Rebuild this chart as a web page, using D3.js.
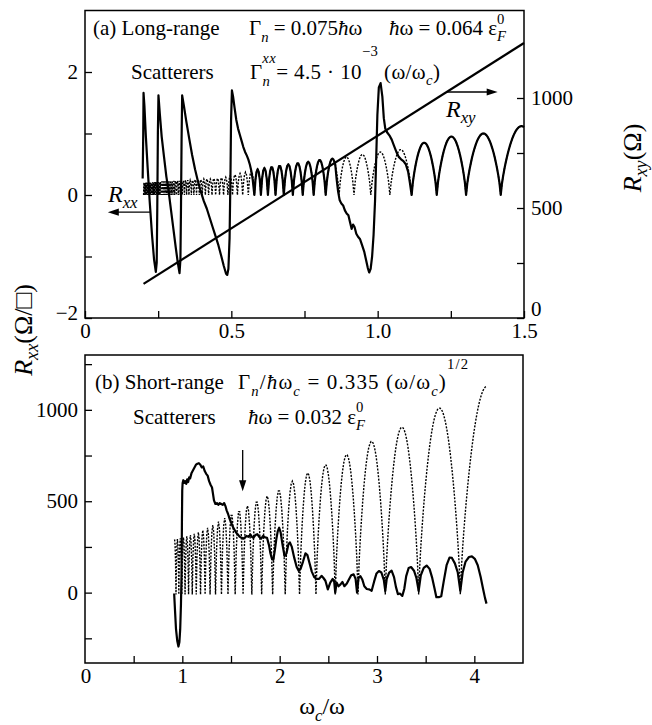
<!DOCTYPE html>
<html><head><meta charset="utf-8">
<script src="https://cdn.jsdelivr.net/npm/d3@7"></script>
<style>
body{margin:0;background:#fff}
svg{display:block;background:#fff}
svg text{font-family:"Liberation Serif","Times New Roman",Times,"DejaVu Serif",serif;fill:#000}
.ax text{font-size:21px}
</style>
</head><body>
<svg id="c" width="652" height="725"></svg>
<script>
// ---------------- DATA ----------------
// Panel (a): long-range scatterers. x = omega_c/omega
const aXTicks = [0, 0.25, 0.5, 0.75, 1.0, 1.25, 1.5];
const aXLabelVals = [0, 0.5, 1.0, 1.5];
const aXLabels = ["0", "0.5", "1.0", "1.5"];
const aYTicks = [-2, -1, 0, 1, 2];
const aYLabelVals = [-2, 0, 2];
const aYLabels = ["\u22122", "0", "2"];
const aYRTicks = [0, 250, 500, 750, 1000];
const aYRLabelVals = [0, 500, 1000];
const aYRLabels = ["0", "500", "1000"];

// cusp positions (minima) of the theoretical (dotted) Rxx oscillation, panel (a)
const aCusps = [0.2003,0.2029,0.2056,0.2083,0.2111,0.2140,0.2170,0.2201,0.2232,0.2264,0.2298,0.2332,0.2367,0.2404,0.2441,0.2480,0.2520,0.2561,0.2604,0.2648,0.2694,0.2741,0.2790,0.2841,0.2894,0.2948,0.3005,0.3064,0.3125,0.3189,0.3255,0.3324,0.3397,0.3472,0.3551,0.3634,0.3720,0.3811,0.3906,0.4006,0.4112,0.4223,0.4340,0.4464,0.4596,0.4735,0.4883,0.5040,0.5208,0.5388,0.5580,0.5787,0.6010,0.6250,0.6510,0.6793,0.7102,0.7440,0.7813,0.8224,0.8681,0.9191,0.9766,1.0417,1.1161,1.2019,1.3021,1.4205,1.5625];
// peak height of each arch between consecutive cusps
const aPeaks = [0.20,0.20,0.20,0.20,0.20,0.20,0.20,0.20,0.20,0.20,
 0.21,0.21,0.21,0.21,0.21,0.21,0.21,0.21,
 0.22,0.22,0.22,0.22,0.22,0.22,0.22,0.22,
 0.23,0.23,0.23,0.23,0.23,0.23,
 0.24,0.24,0.24,0.24,
 0.25,0.25,0.25,
 0.26,0.26,0.26,
 0.27,0.27,
 0.28,0.29,0.31,0.33,0.35,0.37,0.39,0.42,0.44,0.46,0.48,0.50,0.52,0.54,0.57,0.59,0.62,0.66,0.70,0.74,0.85,0.95,1.00,1.12];
const aDotRange = [0.2003, 1.5];

// solid Rxx trace (a), part 1 (sawtooth up to where it meets the arches)
const aSolidX1 = [0.197,0.199,0.200,0.203,0.208,0.214,0.221,0.229,0.236,0.242,0.245,0.247,0.249,0.251,0.256,0.262,0.270,0.278,0.286,0.294,0.302,0.310,0.317,0.323,0.326,0.328,0.330,0.332,0.338,0.346,0.356,0.366,0.376,0.386,0.396,0.406,0.416,0.426,0.436,0.446,0.456,0.466,0.474,0.482,0.486,0.490,0.494,0.497,0.499,0.502,0.506,0.511,0.517,0.523,0.529,0.535,0.541,0.547,0.553,0.558,0.563,0.568,0.573];
const aSolidY1 = [0.27,1.0,1.66,1.45,0.95,0.45,-0.1,-0.65,-1.05,-1.25,-1.1,-0.2,1.0,1.62,1.3,0.95,0.62,0.3,0.05,-0.25,-0.55,-0.85,-1.1,-1.27,-1.05,-0.2,0.9,1.62,1.45,1.2,0.92,0.65,0.42,0.22,0.05,-0.1,-0.22,-0.37,-0.52,-0.67,-0.82,-1.0,-1.15,-1.28,-1.3,-1.2,-0.7,0.3,1.2,1.7,1.6,1.42,1.22,1.08,0.98,0.88,0.78,0.7,0.64,0.58,0.5,0.4,0.25];
const aSolidArch1 = [0.5787, 0.852];   // solid follows the arches here
const aSolidX2 = [0.855,0.860,0.865,0.870,0.876,0.882,0.888,0.894,0.900,0.906,0.911,0.916,0.921,0.927,0.933,0.940,0.947,0.954,0.960,0.966,0.971,0.976,0.981,0.986,0.991,0.995,0.999,1.004,1.010,1.016,1.021,1.026,1.032,1.040,1.048,1.056,1.064,1.072,1.080,1.088,1.096,1.104,1.110];
const aSolidY2 = [0.5,0.25,0.05,-0.08,-0.14,-0.17,-0.25,-0.3,-0.33,-0.45,-0.55,-0.48,-0.52,-0.63,-0.68,-0.72,-0.82,-0.92,-1.05,-1.18,-1.26,-1.2,-1.0,-0.65,-0.1,0.6,1.3,1.75,1.82,1.6,1.25,1.08,1.02,0.97,0.9,0.8,0.7,0.62,0.58,0.55,0.5,0.38,0.2];
const aSolidArch2 = [1.1161, 1.5];

// Hall resistance Rxy (Ohm), right axis
const rxyX = [0.2, 1.5];
const rxyY = [155, 1250];

// Panel (b): short-range scatterers
const bXTicks = [0.5, 1, 1.5, 2, 2.5, 3, 3.5, 4];
const bXLabelVals = [0, 1, 2, 3, 4];
const bXLabels = ["0", "1", "2", "3", "4"];
const bYTicks = [-250, 0, 250, 500, 750, 1000, 1250];
const bYLabelVals = [0, 500, 1000];
const bYLabels = ["0", "500", "1000"];

const bCusps = [0.907,0.935,0.964,0.995,1.028,1.064,1.102,1.143,1.187,1.234,1.285,1.341,1.402,1.469,1.543,1.624,1.714,1.815,1.928,2.057,2.204,2.373,2.571,2.805,3.085,3.428,3.856,4.407];
const bPeaks = [290,293,297,302,308,315,322,330,342,355,370,388,408,430,452,475,500,528,560,610,655,700,755,828,905,1010,1130];
const bDotRange = [0.92, 4.13];
const bBase = -10;

const bSolidX = [0.916,0.925,0.935,0.948,0.960,0.970,0.978,0.986,0.992,0.996,0.999,1.003,1.010,1.020,1.030,1.040,1.050,1.060,1.070,1.080,1.095,1.110,1.125,1.140,1.155,1.170,1.185,1.200,1.215,1.230,1.245,1.260,1.275,1.290,1.305,1.315,1.325,1.340,1.355,1.370,1.385,1.400,1.415,1.430,1.445,1.455,1.470,1.485,1.500,1.515,1.530,1.550,1.570,1.590,1.610,1.625,1.640,1.660,1.680,1.700,1.715,1.730,1.750,1.770,1.790,1.810,1.830,1.850,1.870,1.890,1.905,1.920,1.935,1.950,1.965,1.980,1.995,2.010,2.030,2.050,2.070,2.090,2.105,2.125,2.150,2.175,2.195,2.215,2.240,2.265,2.285,2.305,2.330,2.355,2.380,2.405,2.430,2.450,2.470,2.495,2.520,2.545,2.560,2.571,2.585,2.605,2.625,2.645,2.665,2.690,2.710,2.735,2.760,2.780,2.795,2.810,2.830,2.850,2.870,2.895,2.920,2.945,2.970,2.995,3.020,3.045,3.070,3.085,3.100,3.125,3.150,3.175,3.195,3.215,3.235,3.260,3.280,3.300,3.325,3.350,3.380,3.405,3.428,3.450,3.480,3.510,3.540,3.565,3.590,3.610,3.635,3.660,3.685,3.715,3.745,3.770,3.800,3.830,3.856,3.880,3.910,3.945,3.975,4.005,4.035,4.065,4.090,4.110,4.125];
const bSolidY = [-5,-100,-200,-265,-295,-270,-200,-60,100,400,560,600,615,600,610,595,620,605,630,625,655,670,685,700,705,708,700,685,690,665,650,640,610,590,575,540,505,485,490,480,490,485,480,490,470,450,430,405,385,365,350,330,318,305,300,295,300,310,305,318,305,300,315,320,305,295,310,302,300,260,215,185,180,230,290,335,355,330,260,200,215,265,275,250,190,140,120,130,170,215,205,165,115,85,75,75,92,80,65,18,55,75,60,0,55,35,45,58,35,50,70,95,100,75,0,80,90,70,35,20,18,10,60,105,118,110,70,10,75,110,120,85,30,-8,-5,-18,20,90,135,140,120,80,10,95,135,148,130,85,25,-25,-25,-20,60,150,192,190,160,110,10,110,170,195,198,185,150,85,20,-30,-60];

// arrows (data units)
const rxxArrowX = [0.222, 0.078], rxxArrowY = -0.28;
const rxyArrowX = [1.236, 1.41], rxyArrowY = 1.675;
const bArrowX = 1.62, bArrowY = [780, 555];

// ---------------- DRAWING ----------------
const svg = d3.select("#c");
const xa = d3.scaleLinear().domain([0, 1.5]).range([85, 524]);
const ya = d3.scaleLinear().domain([-2, 3]).range([318, 10.5]);
const yaR = d3.scaleLinear().domain([0, 1400]).range([318, 10]);
const xb = d3.scaleLinear().domain([0, 4.5]).range([85, 523]);
const yb = d3.scaleLinear().domain([-385, 1300]).range([663, 355]);

function archValue(cusps, peaks, base, x) {
  let k = d3.bisectRight(cusps, x) - 1;
  k = Math.max(0, Math.min(peaks.length - 1, k));
  const c0 = cusps[k], c1 = cusps[k + 1];
  const t = Math.max(0, Math.min(1, (x - c0) / (c1 - c0)));
  return base + (peaks[k] - base) * Math.pow(Math.sin(Math.PI * t), 0.75);
}
function archPts(cusps, peaks, base, x0, x1, xs) {
  const arr = [x0, x1];
  for (let k = 0; k < peaks.length; k++) {
    const c0 = cusps[k], c1 = cusps[k + 1];
    if (c1 <= x0 || c0 >= x1) continue;
    const ns = Math.max(6, Math.ceil((xs(c1) - xs(c0)) / 1.2));
    for (let i = 0; i <= ns; i++) {
      const x = c0 + (c1 - c0) * i / ns;
      if (x > x0 && x < x1) arr.push(x);
    }
  }
  arr.sort((a, b) => a - b);
  return arr.map(x => [x, archValue(cusps, peaks, base, x)]);
}

function axis(gen, transform, vals, labelVals, labels, pad) {
  const m = new Map(labelVals.map((v, i) => [v, labels[i]]));
  const g = svg.append("g").attr("class", "ax").attr("transform", transform)
    .call(gen.tickValues(vals).tickSize(-7).tickPadding(pad)
      .tickFormat(d => m.has(d) ? m.get(d) : ""));
  g.select(".domain").remove();
  g.selectAll("line").attr("stroke-width", 1.3);
  g.attr("font-family", null).attr("font-size", null);
  return g;
}

function rich(parent, x, y, parts, size, opts) {
  opts = opts || {};
  const t = parent.append("text").attr("font-size", size);
  if (opts.transform) t.attr("transform", opts.transform); else t.attr("x", x).attr("y", y);
  if (opts.anchor) t.attr("text-anchor", opts.anchor);
  if (opts.len) t.attr("textLength", opts.len).attr("lengthAdjust", "spacing");
  let cur = 0;
  parts.forEach(p => {
    const off = p.off || 0;
    const ts = t.append("tspan").text(p.t).attr("dy", off - cur);
    cur = off;
    if (p.off) ts.attr("font-size", size * 0.7);
    if (p.it) ts.attr("font-style", "italic");
    if (p.dx) ts.attr("dx", p.dx);
  });
  return t;
}

function arrowHead(x, y, dir) {
  const L = 11, W = 3.6;
  let pts;
  if (dir === 'l') pts = [[x, y], [x + L, y - W], [x + L, y + W]];
  if (dir === 'r') pts = [[x, y], [x - L, y - W], [x - L, y + W]];
  if (dir === 'd') pts = [[x, y], [x - W, y - L], [x + W, y - L]];
  svg.append("path").attr("d", "M" + pts.join("L") + "Z").attr("fill", "#000");
}

// ---- Panel (a)
const lineA = d3.line().x(d => xa(d[0])).y(d => ya(d[1]));
const dotA = archPts(aCusps, aPeaks, 0, aDotRange[0], aDotRange[1], xa);
svg.append("path").attr("d", lineA(dotA)).attr("fill", "none").attr("stroke", "#000")
  .attr("stroke-width", 1.4).attr("stroke-dasharray", "2,1.4");

svg.append("path")
  .attr("d", d3.line().x(d => xa(d[0])).y(d => yaR(d[1]))(rxyX.map((x, i) => [x, rxyY[i]])))
  .attr("fill", "none").attr("stroke", "#000").attr("stroke-width", 2.2);

const solidA = [];
aSolidX1.forEach((x, i) => solidA.push([x, aSolidY1[i]]));
solidA.push(...archPts(aCusps, aPeaks, 0, aSolidArch1[0], aSolidArch1[1], xa));
aSolidX2.forEach((x, i) => solidA.push([x, aSolidY2[i]]));
solidA.push(...archPts(aCusps, aPeaks, 0, aSolidArch2[0], aSolidArch2[1], xa));
svg.append("path").attr("d", lineA(solidA)).attr("fill", "none").attr("stroke", "#000")
  .attr("stroke-width", 2.2).attr("stroke-linejoin", "round");

svg.append("rect").attr("x", 85).attr("y", 10.5).attr("width", 439).attr("height", 307.5)
  .attr("fill", "none").attr("stroke", "#000").attr("stroke-width", 1.5);

axis(d3.axisBottom(xa), "translate(0,318)", aXTicks, aXLabelVals, aXLabels, 5);
const aLeft = axis(d3.axisLeft(ya), "translate(85,0)", aYTicks, aYLabelVals, aYLabels, 7);
const aRight = axis(d3.axisRight(yaR), "translate(524,0)", aYRTicks, aYRLabelVals, aYRLabels, 7);
aLeft.selectAll(".tick").filter(d => d === -2).select("text").attr("dy", "0.08em");
aRight.selectAll(".tick").filter(d => d === 0).select("text").attr("dy", "-0.1em");

// arrows
svg.append("line").attr("x1", xa(rxxArrowX[0])).attr("x2", xa(rxxArrowX[1]) + 4)
  .attr("y1", ya(rxxArrowY)).attr("y2", ya(rxxArrowY)).attr("stroke", "#000").attr("stroke-width", 1.3);
arrowHead(xa(rxxArrowX[1]), ya(rxxArrowY), 'l');
svg.append("line").attr("x1", xa(rxyArrowX[0])).attr("x2", xa(rxyArrowX[1]) - 4)
  .attr("y1", ya(rxyArrowY)).attr("y2", ya(rxyArrowY)).attr("stroke", "#000").attr("stroke-width", 1.3);
arrowHead(xa(rxyArrowX[1]), ya(rxyArrowY), 'r');

rich(svg, 108, 202, [{t: "R", it: 1}, {t: "xx", it: 1, off: 6}], 24);
rich(svg, 446, 117, [{t: "R", it: 1}, {t: "xy", it: 1, off: 6}], 24);

// annotation (a)
rich(svg, 93, 35, [{t: "(a) Long-range"}], 21);
rich(svg, 249, 35, [{t: "\u0393"}, {t: "n", it: 1, off: 7}, {t: " = 0.075"}, {t: "\u0127", it: 1}, {t: "\u03c9"}], 21);
rich(svg, 389, 35, [{t: "\u0127", it: 1}, {t: "\u03c9 = 0.064 \u03b5"}, {t: "F", it: 1, off: 6}, {t: "0", off: -11, dx: -9}], 21);
rich(svg, 131, 79, [{t: "Scatterers"}], 21);
rich(svg, 250, 79, [{t: "\u0393"}, {t: "n", it: 1, off: 7}, {t: "xx", it: 1, off: -16, dx: -8}, {t: "= 4.5 \u00b7 10"}, {t: "\u22123", off: -23}, {t: " (\u03c9/\u03c9"}, {t: "c", it: 1, off: 6}, {t: ")"}], 21, {len: 190});

// ---- Panel (b)
const lineB = d3.line().x(d => xb(d[0])).y(d => yb(d[1]));
const dotB = archPts(bCusps, bPeaks, bBase, bDotRange[0], bDotRange[1], xb);
svg.append("path").attr("d", lineB(dotB)).attr("fill", "none").attr("stroke", "#000")
  .attr("stroke-width", 1.4).attr("stroke-dasharray", "2,1.4");
svg.append("path").attr("d", lineB(bSolidX.map((x, i) => [x, bSolidY[i]]))).attr("fill", "none")
  .attr("stroke", "#000").attr("stroke-width", 2.2).attr("stroke-linejoin", "round");

svg.append("rect").attr("x", 85).attr("y", 355).attr("width", 438).attr("height", 308)
  .attr("fill", "none").attr("stroke", "#000").attr("stroke-width", 1.5);
axis(d3.axisBottom(xb), "translate(0,663)", bXTicks, bXLabelVals.slice(1), bXLabels.slice(1), 5);
svg.append("text").attr("x", xb(bXLabelVals[0]) + 1).attr("y", 663 + 5).attr("dy", "0.71em")
  .attr("text-anchor", "middle").attr("font-size", 21).text(bXLabels[0]);
axis(d3.axisLeft(yb), "translate(85,0)", bYTicks, bYLabelVals, bYLabels, 7);

svg.append("line").attr("x1", xb(bArrowX)).attr("x2", xb(bArrowX))
  .attr("y1", yb(bArrowY[0])).attr("y2", yb(bArrowY[1]) - 4).attr("stroke", "#000").attr("stroke-width", 1.3);
arrowHead(xb(bArrowX), yb(bArrowY[1]), 'd');

rich(svg, 95, 389, [{t: "(b) Short-range"}], 21);
rich(svg, 238, 389, [{t: "\u0393"}, {t: "n", it: 1, off: 7}, {t: "/"}, {t: "\u0127", it: 1}, {t: "\u03c9"}, {t: "c", it: 1, off: 7}, {t: " = 0.335 (\u03c9/\u03c9"}, {t: "c", it: 1, off: 7}, {t: ")"}, {t: "1/2", off: -20}], 21, {len: 230});
rich(svg, 133, 424, [{t: "Scatterers"}], 21);
rich(svg, 248, 424, [{t: "\u0127", it: 1}, {t: "\u03c9 = 0.032 \u03b5"}, {t: "F", it: 1, off: 6}, {t: "0", off: -12, dx: -9}], 21);

// axis titles
rich(svg, 0, 0, [{t: "R", it: 1}, {t: "xx", it: 1, off: 6}, {t: "(\u03a9/\u25a1)"}], 26, {anchor: "middle", transform: "translate(32,330) rotate(-90)"});
rich(svg, 0, 0, [{t: "R", it: 1}, {t: "xy", it: 1, off: 6}, {t: "(\u03a9)"}], 26, {anchor: "middle", transform: "translate(641,158) rotate(-90)"});
rich(svg, 322, 714, [{t: "\u03c9"}, {t: "c", it: 1, off: 7}, {t: "/\u03c9"}], 24, {anchor: "middle"});
</script>
</body></html>
